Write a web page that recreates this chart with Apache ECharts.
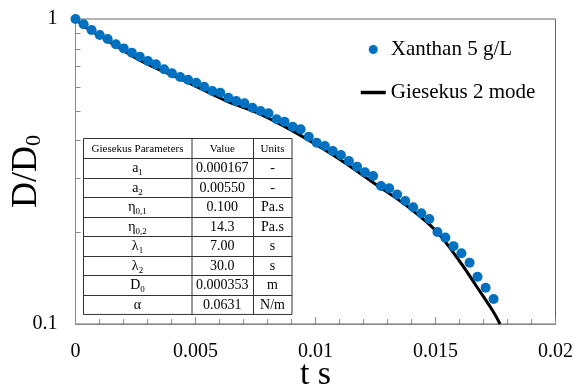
<!DOCTYPE html>
<html>
<head>
<meta charset="utf-8">
<script src="https://cdn.jsdelivr.net/npm/echarts@6/dist/echarts.min.js"></script>
<style>
html,body{margin:0;padding:0;background:#fff}
#chart{width:574px;height:390px}
</style>
</head>
<body>
<div id="chart"></div>
<script>
var serif = '"Liberation Serif", "Times New Roman", serif';

// measured drop: time (s) and D/D0
var tData = [0, 0.00034, 0.00067, 0.00101, 0.00134, 0.00168, 0.00201, 0.00235, 0.00268, 0.00302,
	0.00335, 0.00369, 0.00402, 0.00436, 0.00469, 0.00503, 0.00536, 0.0057, 0.00603, 0.00637,
	0.0067, 0.00704, 0.00737, 0.00771, 0.00804, 0.00838, 0.00871, 0.00905, 0.00938, 0.00972,
	0.01005, 0.01039, 0.01072, 0.01106, 0.01139, 0.01173, 0.01206, 0.0124, 0.01273, 0.01307,
	0.0134, 0.01374, 0.01407, 0.01441, 0.01474, 0.01508, 0.01541, 0.01575, 0.01608, 0.01642,
	0.01675, 0.01709, 0.01742];
var dData = [1.0, 0.961, 0.920, 0.886, 0.860, 0.826, 0.801, 0.775, 0.752, 0.728,
	0.710, 0.684, 0.664, 0.645, 0.632, 0.618, 0.600, 0.581, 0.573, 0.552,
	0.538, 0.529, 0.512, 0.499, 0.491, 0.469, 0.4605, 0.4435, 0.4347, 0.411,
	0.393, 0.3834, 0.369, 0.358, 0.342, 0.328, 0.3144, 0.3055, 0.2835, 0.2786,
	0.266, 0.253, 0.2413, 0.2306, 0.221, 0.2003, 0.192, 0.180, 0.1705, 0.1589,
	0.1429, 0.1315, 0.1208];

// Giesekus 2 mode curve
var fitT = [0, 0.00047, 0.00144, 0.00283, 0.00435, 0.0063, 0.00769, 0.00908, 0.01073, 0.01255,
	0.01394, 0.01505, 0.01602, 0.01672, 0.01741, 0.01769];
var fitD = [1.0, 0.935, 0.84, 0.722, 0.638, 0.538, 0.488, 0.428, 0.358, 0.2856,
	0.2394, 0.2008, 0.160, 0.1325, 0.1097, 0.1];

var yMinorTicks = [0.2, 0.3, 0.4, 0.5, 0.6, 0.7, 0.8, 0.9];

// parameter table
var tableHead = ['Giesekus Parameters', 'Value', 'Units'];
var paramNames = ['{m|a}{s|1}', '{m|a}{s|2}', '{m|η}{s|0,1}', '{m|η}{s|0,2}', '{m|λ}{s|1}', '{m|λ}{s|2}', '{m|D}{s|0}', '{m|α}'];
var paramValues = ['0.000167', '0.00550', '0.100', '14.3', '7.00', '30.0', '0.000353', '0.0631'];
var paramUnits = ['-', '-', 'Pa.s', 'Pa.s', 's', 's', 'm', 'N/m'];

var scatterData = [];
for (var i = 0; i < tData.length; i++) scatterData.push([tData[i], dData[i]]);
var fitData = [];
for (var i = 0; i < fitT.length; i++) fitData.push([fitT[i], fitD[i]]);
var tickData = [];
for (var i = 0; i < yMinorTicks.length; i++) tickData.push([0, yMinorTicks[i]]);

// table graphic
var colX = [83.5, 191.5, 253, 292];
var rowTop = 138.5, rowH = 19.55;
var nRows = paramNames.length + 1;
var g = [];
g.push({type:'rect', shape:{x:colX[0], y:rowTop, width:colX[3]-colX[0], height:rowH*nRows},
	style:{fill:'#fff', stroke:'#333', lineWidth:1}, z:100});
for (var r = 1; r < nRows; r++) {
	var yy = Math.round(rowTop + r*rowH) + 0.5;
	g.push({type:'line', shape:{x1:colX[0], y1:yy, x2:colX[3], y2:yy}, style:{stroke:'#333', lineWidth:1}, z:101});
}
for (var c = 1; c < 3; c++) {
	g.push({type:'line', shape:{x1:colX[c]+0.5, y1:rowTop, x2:colX[c]+0.5, y2:rowTop+rowH*nRows}, style:{stroke:'#333', lineWidth:1}, z:101});
}
var subRich = {
	m:{fontSize:14, fontFamily:serif, fill:'#000'},
	s:{fontSize:9, fontFamily:serif, fill:'#000', padding:[9,0,0,0]}
};
for (var r = 0; r < nRows; r++) {
	var cy = rowTop + r*rowH + rowH/2 + 0.5;
	for (var c = 0; c < 3; c++) {
		var cx = (colX[c] + colX[c+1]) / 2;
		var txt, size;
		if (r == 0) { txt = tableHead[c]; size = 11; }
		else { txt = [paramNames, paramValues, paramUnits][c][r-1]; size = 14; }
		g.push({type:'text', x:cx, y:cy, z:102,
			style:{text:txt, fontSize:size, fontFamily:serif, fill:'#000', align:'center', verticalAlign:'middle', rich: c == 0 ? subRich : undefined}});
	}
}

var myChart = echarts.init(document.getElementById('chart'));
var option = {
	animation: false,
	backgroundColor: '#fff',
	grid: {left:75.5, right:18.5, top:19, bottom:66, show:true, borderColor:'#666', borderWidth:1, containLabel:false, outerBoundsMode:'none'},
	legend: {
		orient:'vertical', left:354, top:34, itemGap:22, itemWidth:25, itemHeight:9,
		textStyle:{fontSize:21, fontFamily:serif, color:'#000'},
		data:[
			{name:'Xanthan 5 g/L', icon:'circle'},
			{name:'Giesekus 2 mode', itemStyle:{opacity:0}, lineStyle:{width:3.5}}
		]
	},
	xAxis: {
		type:'value', min:0, max:0.02, interval:0.005,
		name:'t s', nameLocation:'middle', nameGap:34, nameMoveOverlap:false,
		nameTextStyle:{fontSize:34, fontFamily:serif, color:'#000'},
		axisLine:{lineStyle:{color:'#888', width:1}},
		axisTick:{show:true, inside:true, length:7, lineStyle:{color:'#888'}},
		minorTick:{show:true, splitNumber:5, length:5, lineStyle:{color:'#888'}},
		axisLabel:{fontSize:20, fontFamily:serif, color:'#000', margin:18},
		splitLine:{show:false}
	},
	yAxis: {
		type:'log', logBase:10, min:0.1, max:1,
		name:'{m|D/D}{s|0}', nameLocation:'middle', nameGap:30, nameRotate:90, nameMoveOverlap:false,
		nameTextStyle:{color:'#000', rich:{
			m:{fontSize:36, fontFamily:serif, color:'#000'},
			s:{fontSize:22, fontFamily:serif, color:'#000', padding:[16,0,0,0]}
		}},
		axisLine:{show:true, lineStyle:{color:'#888', width:1}},
		axisTick:{show:false},
		axisLabel:{fontSize:20, fontFamily:serif, color:'#000', margin:18},
		splitLine:{show:false}
	},
	graphic: g,
	series: [
		{
			name:'Giesekus 2 mode', type:'line', data:fitData, smooth:0.4,
			symbol:'none', showSymbol:false, clip:true,
			lineStyle:{color:'#000', width:3}, itemStyle:{color:'#000'}, z:2
		},
		{
			name:'Xanthan 5 g/L', type:'scatter', data:scatterData,
			symbol:'circle', symbolSize:10, itemStyle:{color:'#0070C0', opacity:1}, z:3
		},
		{
			type:'custom', data:tickData, silent:true, z:1,
			renderItem:function(params, api){
				var p = api.coord([api.value(0), api.value(1)]);
				return {type:'line', shape:{x1:p[0], y1:Math.round(p[1])+0.5, x2:p[0]+5, y2:Math.round(p[1])+0.5},
					style:{stroke:'#888', lineWidth:1}};
			}
		}
	]
};
myChart.setOption(option);
</script>
</body>
</html>
